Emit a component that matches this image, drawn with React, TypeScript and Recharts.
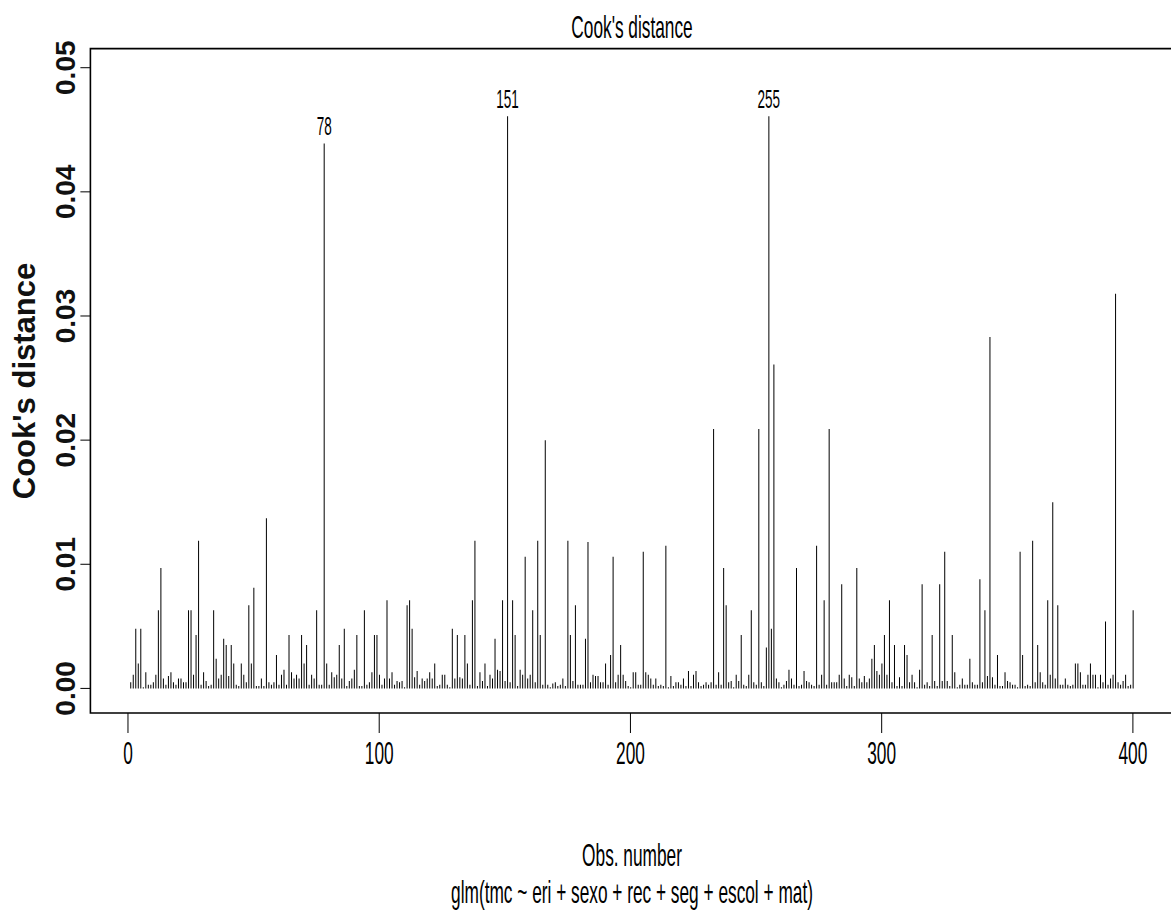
import React from 'react'
import { ComposedChart, Bar, XAxis, YAxis, ReferenceArea, LabelList, Customized } from 'recharts'

// Cook's distance for obs 1..400 in blocks of 50
const obs001 = [.0005, .0011, .0048, .002, .0048, .0001, .0013, .0003, .0003, .0005, .0011, .0063, .0097, .0008, .0003, .001, .0013, .0005, .0003, .0008, .0008, .0005, .0005, .0063, .0063, .0011, .0043, .0119, .0003, .0013, .0006, .0002, .0003, .0063, .0024, .0008, .0011, .004, .0035, .001, .0035, .002, .0003, .0002, .002, .0011, .0005, .0067, .002, .0081]
const obs051 = [.0002, .0002, .0008, .0002, .0137, .0005, .0003, .0005, .0027, .0003, .0011, .0015, .0003, .0043, .0013, .0008, .0011, .0008, .0043, .002, .0035, .0003, .0011, .0008, .0063, .0003, .0003, .0439, .002, .0003, .0013, .0009, .0011, .0035, .0008, .0048, .0002, .0006, .0008, .0015, .0043, .0002, .0002, .0063, .0003, .0005, .0013, .0043, .0043, .0011]
const obs101 = [.0003, .0008, .0071, .0008, .0013, .0003, .0006, .0005, .0006, .0001, .0067, .0071, .0048, .0009, .0014, .0003, .0008, .0006, .0008, .0013, .0008, .002, .0002, .0003, .0011, .0011, .0003, .0001, .0048, .0008, .0043, .0009, .0008, .0043, .002, .0003, .0071, .0119, .0002, .0013, .0006, .002, .0002, .0011, .0008, .004, .0015, .0014, .0071, .0006]
const obs151 = [.0461, .0005, .0071, .0043, .0002, .0015, .0011, .0106, .0008, .0011, .0063, .0005, .0119, .0043, .0003, .02, .0003, .0001, .0004, .0005, .0002, .0003, .0008, .0002, .0119, .0043, .0006, .0067, .0003, .0003, .0003, .004, .0118, .0005, .0011, .001, .001, .0005, .0005, .002, .0003, .0027, .0106, .0005, .0011, .0035, .0011, .0006, .0002, .0001]
const obs201 = [.0013, .0013, .0003, .0003, .011, .0013, .0011, .0008, .0003, .0008, .0002, .0003, .0002, .0115, .0001, .001, .0002, .0005, .0005, .0003, .0008, .0002, .0014, .0002, .0011, .0014, .0005, .0002, .0003, .0005, .0003, .0005, .0209, .0003, .0013, .0003, .0097, .0067, .0005, .0006, .0001, .0011, .0006, .0043, .0003, .0002, .0011, .0063, .0005, .0003]
const obs251 = [.0209, .0005, .0002, .0033, .0461, .0048, .0261, .0008, .0005, .0001, .0003, .0006, .0015, .0008, .0003, .0097, .0002, .0003, .0014, .0006, .0005, .0003, .0002, .0115, .0003, .0011, .0071, .0003, .0209, .0005, .0005, .0005, .0011, .0084, .0008, .0002, .0011, .0009, .0002, .0097, .0008, .0005, .001, .0005, .0008, .0024, .0035, .0014, .0011, .002]
const obs301 = [.0043, .0011, .0071, .0005, .0035, .0002, .0009, .0002, .0035, .0027, .0005, .0011, .0005, .0001, .0015, .0084, .0003, .0005, .0002, .0043, .0006, .0002, .0084, .0006, .011, .0006, .0002, .0043, .0013, .0001, .0003, .0008, .0003, .0003, .0024, .0005, .0003, .0003, .0088, .0005, .0063, .001, .0283, .0009, .0003, .0027, .0002, .0002, .0013, .0006]
const obs351 = [.0005, .0003, .0003, .0001, .011, .0027, .0002, .0003, .0002, .0119, .0005, .0035, .0013, .0005, .0003, .0071, .0011, .015, .0008, .0067, .0003, .0003, .0008, .0003, .0002, .0003, .002, .002, .0013, .0003, .0003, .0011, .002, .0011, .0011, .0001, .0011, .0005, .0054, .0003, .0008, .0011, .0318, .0005, .0003, .0006, .0011, .0002, .0003, .0063]

const cooks = [...obs001, ...obs051, ...obs101, ...obs151, ...obs201, ...obs251, ...obs301, ...obs351]
const labelled = [78, 151, 255]
const xTicks = [0, 100, 200, 300, 400]
const yTicks = [0, 0.01, 0.02, 0.03, 0.04, 0.05]

const data = cooks.map((d, i) => ({ obs: i + 1, d }))

const X_DOMAIN: [number, number] = [-14.96, 415.96]
const Y_DOMAIN: [number, number] = [-0.00198, 0.05154]
const FONT = '"Liberation Sans", Arial, sans-serif'
const SQ = 0.54 // horizontal text is squeezed in the original

const XTick = ({ x, y, payload }: any) => (
  <g transform={`translate(${x},${y})`}>
    <text transform={`scale(${SQ},1)`} textAnchor="middle" y={29} fontSize={32} fontFamily={FONT} fill="#000">
      {payload.value}
    </text>
  </g>
)

const YTick = ({ x, y, payload }: any) => (
  <text transform={`translate(${x - 3},${y}) rotate(-90)`} textAnchor="middle" fontSize={28} fontWeight="bold" fontFamily={FONT} fill="#111">
    {Number(payload.value).toFixed(2)}
  </text>
)

const PeakLabel = (props: any) => {
  const { x, y, width, value } = props
  if (!labelled.includes(value)) return null
  return (
    <text transform={`translate(${x + width / 2},${y - 8}) scale(${SQ},1)`} textAnchor="middle" fontSize={25} fontFamily={FONT} fill="#000">
      {value}
    </text>
  )
}

const Texts = () => (
  <g fontFamily={FONT} fill="#000">
    <text transform={`translate(632,38) scale(${SQ},1)`} textAnchor="middle" fontSize={32}>Cook's distance</text>
    <text transform={`translate(632,866) scale(${SQ},1)`} textAnchor="middle" fontSize={32}>Obs. number</text>
    <text transform={`translate(632,903) scale(${SQ},1)`} textAnchor="middle" fontSize={32}>
      glm(tmc ~ eri + sexo + rec + seg + escol + mat)
    </text>
    <text transform="translate(35,381) rotate(-90)" textAnchor="middle" fontSize={31} fontWeight="bold" fill="#111">Cook's distance</text>
  </g>
)

export default function App() {
  return (
    <div style={{ position: 'absolute', left: 0, top: 0, width: 1171, height: 915, overflow: 'hidden', background: '#fff' }}>
      <ComposedChart width={1173} height={915} data={data} margin={{ top: 48.6, right: 0, bottom: 142, left: 30.4 }}>
        <XAxis
          dataKey="obs"
          type="number"
          domain={X_DOMAIN}
          ticks={xTicks}
          allowDataOverflow
          axisLine={false}
          tickLine={{ stroke: '#000', strokeWidth: 1 }}
          tickSize={20}
          height={60}
          tick={<XTick />}
        />
        <YAxis
          type="number"
          domain={Y_DOMAIN}
          ticks={yTicks}
          allowDataOverflow
          axisLine={false}
          tickLine={{ stroke: '#000', strokeWidth: 1 }}
          tickSize={10}
          width={60}
          tick={<YTick />}
        />
        <ReferenceArea
          x1={X_DOMAIN[0]}
          x2={X_DOMAIN[1]}
          y1={Y_DOMAIN[0]}
          y2={Y_DOMAIN[1]}
          fill="none"
          stroke="#000"
          strokeWidth={1.6}
          ifOverflow="visible"
        />
        <Bar dataKey="d" fill="#000" barSize={1} isAnimationActive={false}>
          <LabelList dataKey="obs" content={<PeakLabel />} />
        </Bar>
        <Customized component={<Texts />} />
      </ComposedChart>
    </div>
  )
}
